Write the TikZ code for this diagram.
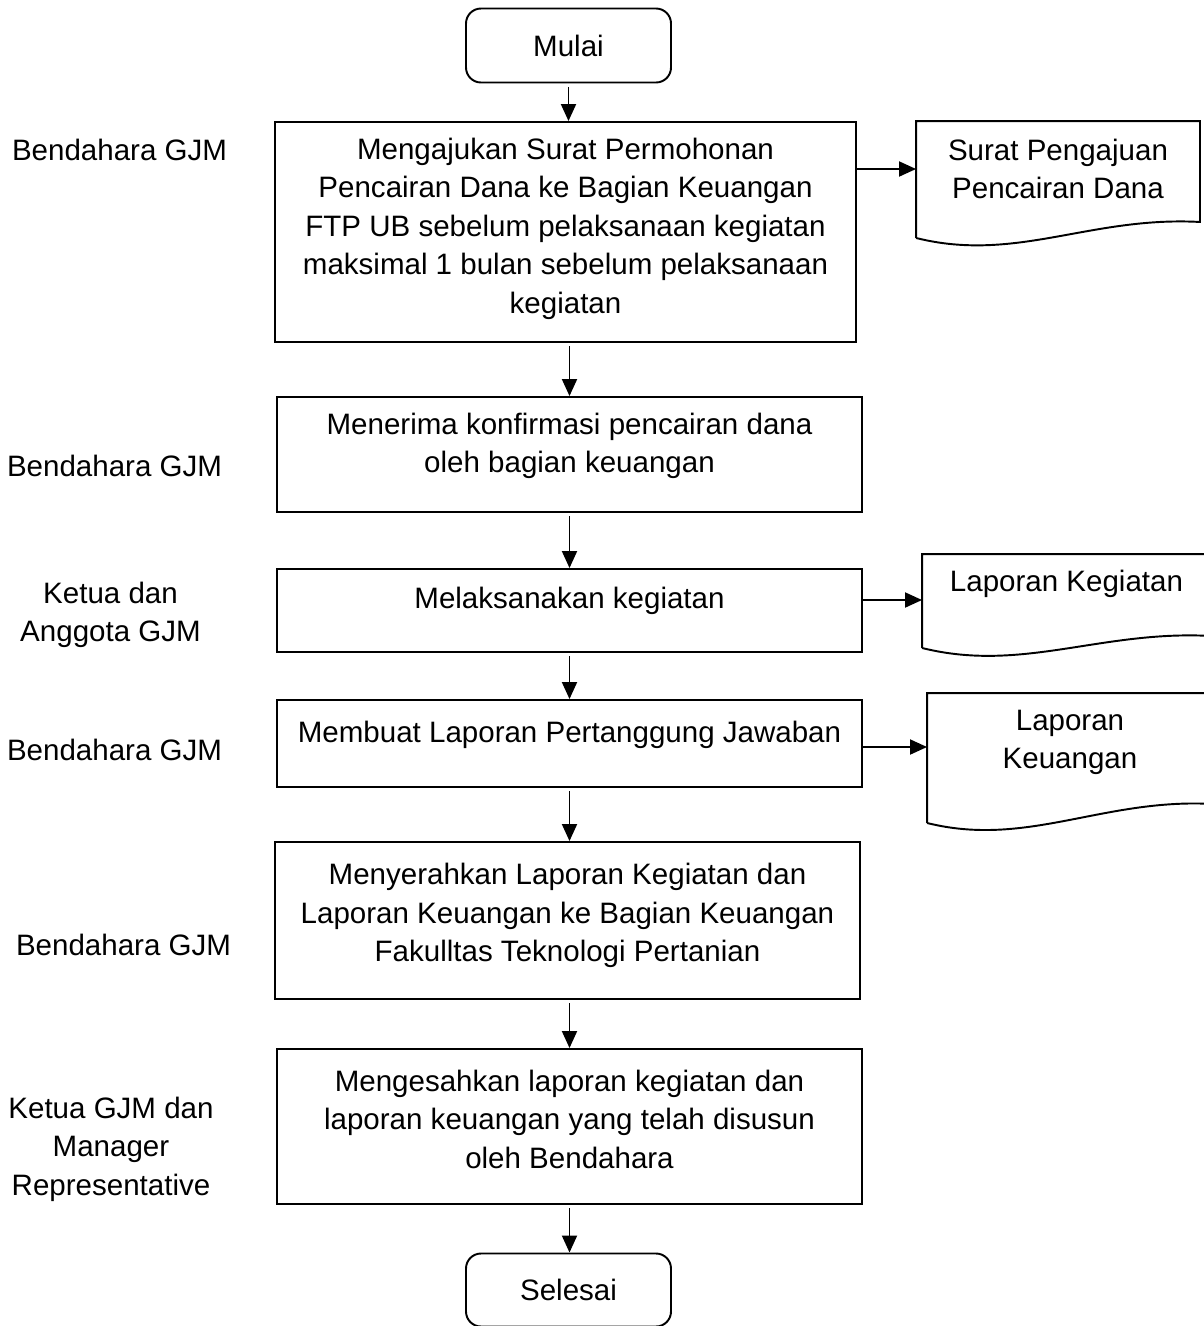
\documentclass[tikz,border=0pt]{standalone}
\usepackage{fontspec}
\setmainfont{Liberation Sans}
\usetikzlibrary{arrows.meta}

% extra depth under the last line, lifts the text inside a box
\newcommand{\tailgap}[1]{\rule[-#1]{0pt}{#1}}
% document symbol drawn round a named node: name, drop left, drop right
\newcommand{\docoutline}[3]{%
  \draw ([yshift=-#2]#1.south west) -- (#1.north west) -- (#1.north east)
    -- ([yshift=-#3]#1.south east)
    .. controls +(-2.2,0.12) and +(2,-0.5) .. ([yshift=-#2]#1.south west);}

\begin{document}
\begin{tikzpicture}[
    line width=1.1pt,
    font=\fontsize{16.8}{21.9}\selectfont,
    terminal/.style={draw, rounded corners=0.3cm, minimum width=4.1cm, minimum height=1.48cm},
    proses/.style={draw, align=center, minimum width=11.7cm},
    dokumen/.style={align=center},
    pelaku/.style={align=center},
    panah/.style={-{Triangle[length=0.34cm,width=0.3cm]}},
    turun/.style={panah, shorten <=2pt}
  ]
    \useasboundingbox (0, 0) rectangle (24.06, -26.52);

    \node[terminal] (mulai) at (11.37, -0.91) {Mulai};

    \node[proses, minimum width=11.62cm, minimum height=4.4cm] (box1) at (11.31, -4.64)
      {Mengajukan Surat Permohonan\\Pencairan Dana ke Bagian Keuangan\\FTP UB sebelum pelaksanaan kegiatan\\maksimal 1 bulan sebelum pelaksanaan\\kegiatan\tailgap{0.25cm}};
    \node[proses, minimum height=2.3cm] (box2) at (11.39, -9.09)
      {Menerima konfirmasi pencairan dana\\oleh bagian keuangan\tailgap{0.47cm}};
    \node[proses, minimum height=1.66cm] (box3) at (11.39, -12.21)
      {Melaksanakan kegiatan\tailgap{0.51cm}};
    \node[proses, minimum height=1.74cm] (box4) at (11.39, -14.87)
      {Membuat Laporan Pertanggung Jawaban\tailgap{0.47cm}};
    \node[proses, minimum height=3.14cm] (box5) at (11.35, -18.41)
      {Menyerahkan Laporan Kegiatan dan\\Laporan Keuangan ke Bagian Keuangan\\Fakulltas Teknologi Pertanian\tailgap{0.31cm}};
    \node[proses, minimum height=3.1cm] (box6) at (11.39, -22.53)
      {Mengesahkan laporan kegiatan dan\\laporan keuangan yang telah disusun\\oleh Bendahara\tailgap{0.29cm}};

    \node[terminal, minimum height=1.46cm] (selesai) at (11.37, -25.8) {Selesai};

    % documents on the right
    \node[dokumen, minimum width=5.64cm, minimum height=1.88cm] (doc1) at (21.16, -3.38)
      {Surat Pengajuan\\Pencairan Dana};
    \node[dokumen, minimum width=5.74cm, minimum height=1.16cm] (doc2) at (21.33, -11.68)
      {Laporan Kegiatan};
    \node[dokumen, minimum width=5.68cm, minimum height=1.94cm] (doc3) at (21.4, -14.85)
      {Laporan\\Keuangan};
    \docoutline{doc1}{0.42cm}{0.1cm}
    \docoutline{doc2}{0.68cm}{0.44cm}
    \docoutline{doc3}{0.62cm}{0.24cm}

    % who does it
    \node[pelaku] (lbl1) at (2.39, -3.0) {Bendahara GJM};
    \node[pelaku] (lbl2) at (2.29, -9.32) {Bendahara GJM};
    \node[pelaku] (lbl3) at (2.21, -12.3) {Ketua dan\\Anggota GJM};
    \node[pelaku] (lbl4) at (2.29, -15.0) {Bendahara GJM};
    \node[pelaku] (lbl5) at (2.47, -18.9) {Bendahara GJM};
    \node[pelaku] (lbl6) at (2.22, -22.98) {Ketua GJM dan\\Manager\\Representative};

    % flow
    \draw[turun] (mulai.south) -- (mulai.south |- box1.north);
    \draw[turun] (box2.north |- box1.south) -- (box2.north);
    \draw[turun] (box3.north |- box2.south) -- (box3.north);
    \draw[turun] (box4.north |- box3.south) -- (box4.north);
    \draw[turun] (box4.south) -- (box4.south |- box5.north);
    \draw[turun] (box6.north |- box5.south) -- (box6.north);
    \draw[turun] (box6.south) -- (box6.south |- selesai.north);

    \draw[panah] (doc1.west -| box1.east) -- (doc1.west);
    \draw[panah] ([yshift=-0.32cm]doc2.west -| box3.east) -- ([yshift=-0.32cm]doc2.west);
    \draw[panah] ([yshift=-0.09cm]doc3.west -| box4.east) -- ([yshift=-0.09cm]doc3.west);
  \end{tikzpicture}
\end{document}
